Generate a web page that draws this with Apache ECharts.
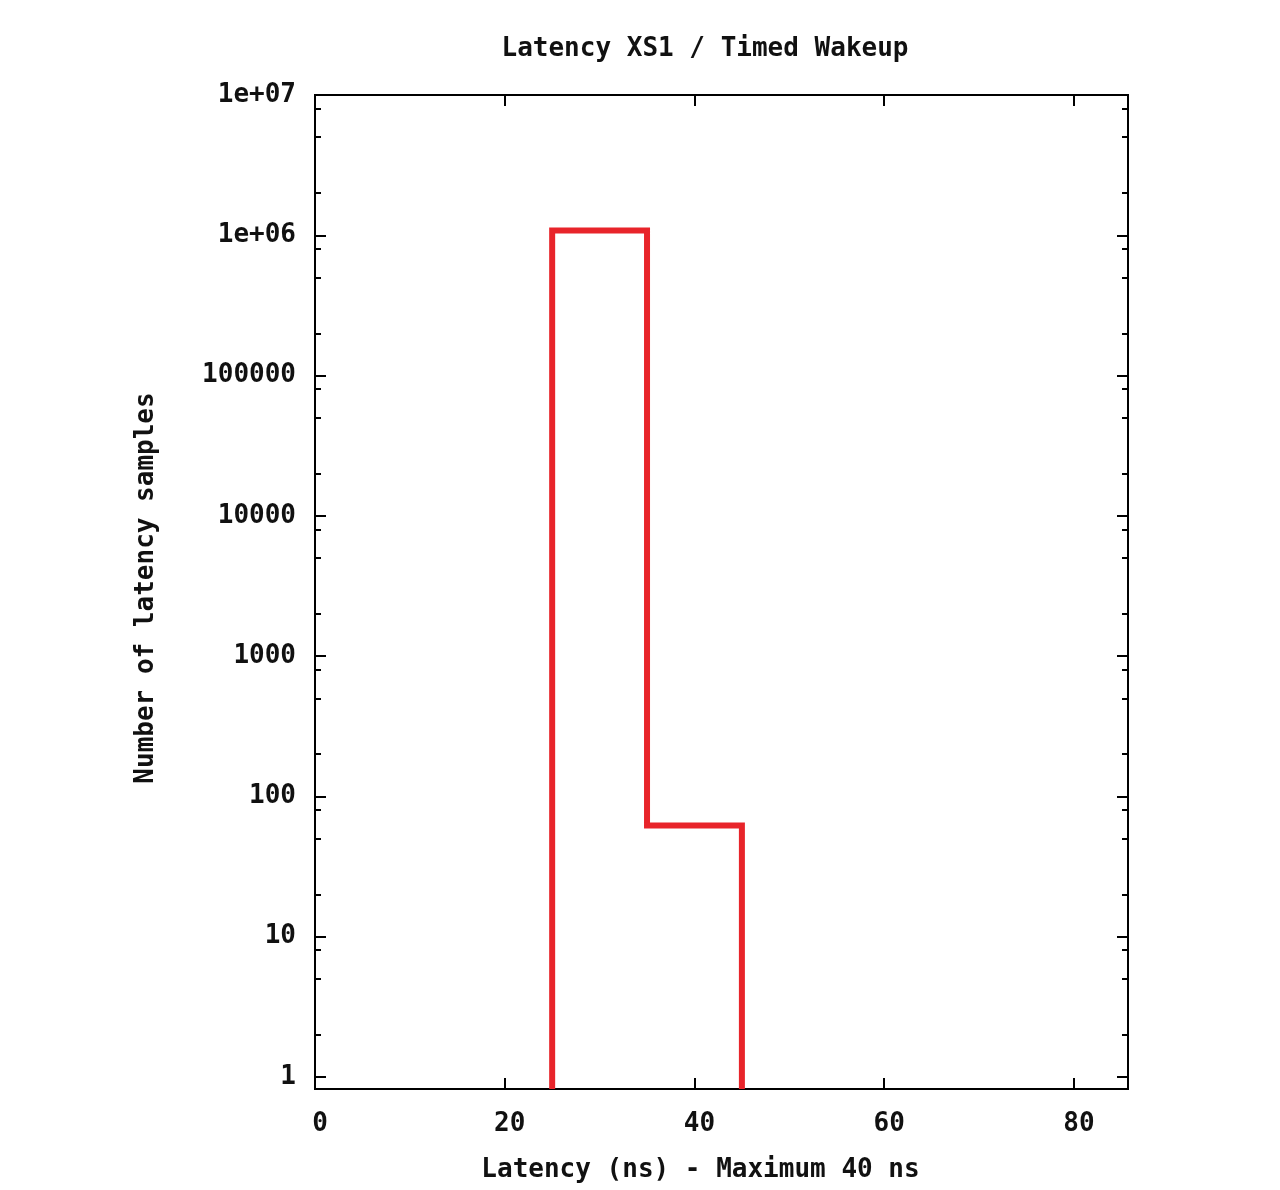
<!DOCTYPE html>
<html>
<head>
<meta charset="utf-8">
<script src="https://cdn.jsdelivr.net/npm/echarts@6/dist/echarts.min.js"></script>
<style>
html,body{margin:0;padding:0;background:#fff;}
#chart{width:1280px;height:1190px;}
</style>
</head>
<body>
<div id="chart"></div>
<script>
// ---- data ----
var binEdges = [25, 35, 45];          // latency bin edges (ns)
var binCounts = [1080000, 62];        // samples per bin
var xTicks = [0, 20, 40, 60, 80];
var yMajorTicks = [1, 10, 100, 1000, 10000, 100000, 1000000, 10000000];
var yTickLabels = ['1', '10', '100', '1000', '10000', '100000', '1e+06', '1e+07'];
var yMinorMultipliers = [2, 5, 8];
var titleText = 'Latency XS1 / Timed Wakeup';
var xName = 'Latency (ns) - Maximum 40 ns';
var yName = 'Number of latency samples';

var yMin = 0.82, yMax = 10000000, xMin = 0, xMax = 85.7;

// step outline built from bins
var stepPts = [[binEdges[0], yMin]];
for (var i = 0; i < binCounts.length; i++) {
  stepPts.push([binEdges[i], binCounts[i]]);
  stepPts.push([binEdges[i + 1], binCounts[i]]);
}
stepPts.push([binEdges[binEdges.length - 1], yMin]);

var yMinor = [];
for (var d = 0; d < 7; d++) {
  yMinorMultipliers.forEach(function (m) { yMinor.push(m * Math.pow(10, d)); });
}

var FONT = '"DejaVu Sans Mono", monospace';
var FS = 26;
var txt = { fontFamily: FONT, fontWeight: 'bold', fontSize: FS, color: '#111' };

function yAx(pos, major, showLabel) {
  return {
    type: 'log', position: pos, min: yMin, max: yMax, logBase: 10,
    axisLine: { show: false },
    splitLine: { show: false },
    axisTick: { show: true, inside: true, length: major ? 11 : 6, customValues: major ? yMajorTicks : yMinor,
      lineStyle: { color: '#000', width: 2 } },
    axisLabel: showLabel ? {
      show: true, customValues: yMajorTicks, margin: 19,
      fontFamily: FONT, fontWeight: 'bold', fontSize: FS, color: '#111',
      padding: [6, 0, 0, 0],
      formatter: function (v) {
        var idx = yMajorTicks.findIndex(function (t) { return Math.abs(Math.log10(t) - Math.log10(v)) < 1e-6; });
        return idx >= 0 ? yTickLabels[idx] : '';
      }
    } : { show: false },
    name: showLabel ? yName : '',
    nameLocation: 'middle', nameGap: 156,
    nameTextStyle: Object.assign({}, txt, { padding: [0, 0, 0, 8] })
  };
}

function xAx(pos, showLabel) {
  return {
    type: 'value', position: pos, min: xMin, max: xMax, interval: 20,
    axisLine: { show: false },
    splitLine: { show: false },
    axisTick: { show: true, inside: true, length: 11, customValues: xTicks, lineStyle: { color: '#000', width: 2 } },
    axisLabel: showLabel ? { show: true, customValues: xTicks, margin: 22, padding: [0, 0, 0, 10], fontFamily: FONT, fontWeight: 'bold', fontSize: FS, color: '#111' } : { show: false },
    name: showLabel ? xName : '',
    nameLocation: 'middle', nameGap: 68,
    nameTextStyle: Object.assign({}, txt, { padding: [0, 42, 0, 0] })
  };
}

var chart = echarts.init(document.getElementById('chart'), null, { renderer: 'canvas' });
chart.setOption({
  animation: false,
  backgroundColor: '#fff',
  title: {
    text: titleText, left: 700, top: 31, textAlign: 'center',
    textStyle: txt
  },
  grid: { left: 315, top: 95, right: 152, bottom: 101, show: true, borderColor: '#000', borderWidth: 2, backgroundColor: 'transparent' },
  xAxis: [xAx('bottom', true), xAx('top', false)],
  yAxis: [yAx('left', true, true), yAx('left', false, false), yAx('right', true, false), yAx('right', false, false)],
  series: [{
    type: 'line', xAxisIndex: 0, yAxisIndex: 0,
    data: stepPts, showSymbol: false, symbol: 'none',
    lineStyle: { color: '#e8242a', width: 6, join: 'miter' },
    clip: false
  }]
});
</script>
</body>
</html>
